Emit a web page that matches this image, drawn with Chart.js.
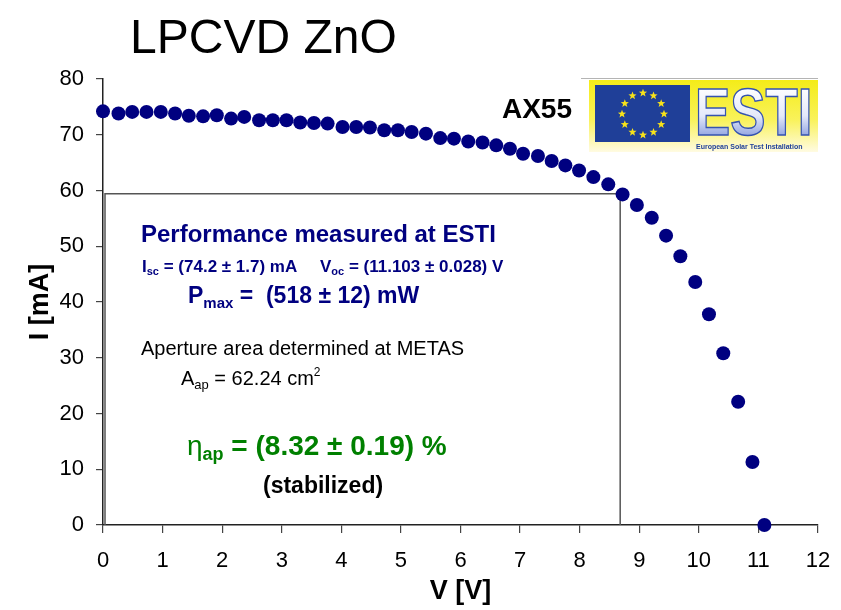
<!DOCTYPE html>
<html lang="en">
<head>
    <meta charset="UTF-8">
    <title>LPCVD ZnO - AX55</title>
    <script src="https://cdn.jsdelivr.net/npm/chart.js"></script>
    <style>
        body { margin: 0; background: #fff; }
    </style>
</head>
<body>
    <canvas id="ivChart" width="841" height="610"></canvas>
    <script>
        // I-V curve of module AX55, measured at ESTI
        const voltage = [
            0.00, 0.26, 0.49, 0.73, 0.97, 1.21, 1.44, 1.68, 1.91, 2.15,
            2.37, 2.62, 2.85, 3.08, 3.31, 3.54, 3.77, 4.02, 4.25, 4.48,
            4.72, 4.95, 5.18, 5.42, 5.66, 5.89, 6.13, 6.37, 6.60, 6.83,
            7.05, 7.30, 7.53, 7.76, 7.99, 8.23, 8.48, 8.72, 8.96, 9.21,
            9.45, 9.69, 9.94, 10.17, 10.41, 10.66, 10.90, 11.10
        ];
        const current = [
            74.2, 73.8, 74.1, 74.1, 74.1, 73.8, 73.4, 73.3, 73.5, 72.9,
            73.2, 72.6, 72.6, 72.6, 72.2, 72.1, 72.0, 71.4, 71.4, 71.3,
            70.8, 70.8, 70.5, 70.2, 69.4, 69.3, 68.8, 68.6, 68.1, 67.5,
            66.6, 66.2, 65.3, 64.5, 63.6, 62.4, 61.1, 59.3, 57.4, 55.1,
            51.9, 48.2, 43.6, 37.8, 30.8, 22.1, 11.3, 0.0
        ];
        const voltageTicks = [0, 1, 2, 3, 4, 5, 6, 7, 8, 9, 10, 11, 12];
        const currentTicks = [0, 10, 20, 30, 40, 50, 60, 70, 80];

        const SANS = '"Liberation Sans", Arial, sans-serif';
        const NAVY = '#000080';
        const GREEN = '#008000';

        const f = (weight, size) => `${weight} ${size}px ${SANS}`;

        // draw a row of text pieces (used for sub/superscripts)
        function drawRuns(ctx, x, y, color, runs) {
            ctx.fillStyle = color;
            ctx.textAlign = 'left';
            ctx.textBaseline = 'alphabetic';
            runs.forEach(([text, font, dy]) => {
                ctx.font = font;
                ctx.fillText(text, x, y + (dy || 0));
                x += ctx.measureText(text).width;
            });
        }

        function star(ctx, cx, cy, rOut, rIn) {
            ctx.beginPath();
            for (let i = 0; i < 10; i++) {
                const r = i % 2 ? rIn : rOut;
                const a = -Math.PI / 2 + i * Math.PI / 5;
                ctx.lineTo(cx + r * Math.cos(a), cy + r * Math.sin(a));
            }
            ctx.closePath();
            ctx.fill();
        }

        function drawLogo(ctx) {
            const L = 589, T = 80, W = 229, H = 72;
            ctx.save();
            ctx.strokeStyle = '#b4b4b4';
            ctx.lineWidth = 1;
            ctx.beginPath();
            ctx.moveTo(L - 8, T - 1.5);
            ctx.lineTo(L + W, T - 1.5);
            ctx.stroke();

            const bg = ctx.createLinearGradient(0, T, 0, T + H);
            bg.addColorStop(0, '#f4ec18');
            bg.addColorStop(0.55, '#f9f25a');
            bg.addColorStop(1, '#fffbe2');
            ctx.fillStyle = bg;
            ctx.fillRect(L, T, W, H);

            // EU flag
            ctx.fillStyle = '#1f3f98';
            ctx.fillRect(595, 85, 95, 57);
            ctx.fillStyle = '#f7e21a';
            for (let k = 0; k < 12; k++) {
                const a = k * Math.PI / 6;
                star(ctx, 643 + 21 * Math.cos(a), 114 + 21 * Math.sin(a), 4.3, 1.8);
            }

            // ESTI lettering
            ctx.translate(695, 135);
            ctx.scale(0.8, 1);
            ctx.font = f('bold', 66);
            ctx.textAlign = 'left';
            ctx.textBaseline = 'alphabetic';
            const g = ctx.createLinearGradient(0, -48, 0, 0);
            g.addColorStop(0, '#ffffff');
            g.addColorStop(0.6, '#e4e9fa');
            g.addColorStop(1, '#97a9e2');
            ctx.fillStyle = g;
            ctx.fillText('ESTI', 0, 0);
            ctx.strokeStyle = '#3553b0';
            ctx.lineWidth = 1.5;
            ctx.strokeText('ESTI', 0, 0);
            ctx.restore();

            ctx.save();
            ctx.fillStyle = '#1f3f98';
            ctx.font = f('bold', 7);
            ctx.textAlign = 'left';
            ctx.fillText('European Solar Test Installation', 696, 149, 117);
            ctx.restore();
        }

        const annotations = {
            id: 'annotations',
            beforeDatasetsDraw(chart) {
                const {ctx, scales: {x, y}} = chart;
                // results box
                const left = chart.chartArea.left + 2;
                const right = x.getPixelForValue(8.68);
                const top = y.getPixelForValue(59.4);
                const bottom = y.getPixelForValue(0);
                ctx.save();
                ctx.fillStyle = '#fff';
                ctx.fillRect(left, top, right - left, bottom - top - 1);
                ctx.strokeStyle = '#555';
                ctx.lineWidth = 1.5;
                ctx.beginPath();
                ctx.moveTo(left, bottom);
                ctx.lineTo(left, top);
                ctx.lineTo(right, top);
                ctx.lineTo(right, bottom);
                ctx.stroke();

                drawRuns(ctx, left + 36, top + 48, NAVY, [
                    ['Performance measured at ESTI', f('bold', 24)]
                ]);
                drawRuns(ctx, left + 37, top + 78, NAVY, [
                    ['I', f('bold', 17)],
                    ['sc', f('bold', 11), 3],
                    [' = (74.2 \u00b1 1.7) mA', f('bold', 17)]
                ]);
                drawRuns(ctx, left + 215, top + 78, NAVY, [
                    ['V', f('bold', 17)],
                    ['oc', f('bold', 11), 3],
                    [' = (11.103 \u00b1 0.028) V', f('bold', 17)]
                ]);
                drawRuns(ctx, left + 83, top + 109, NAVY, [
                    ['P', f('bold', 23)],
                    ['max', f('bold', 15), 5],
                    [' =  (518 \u00b1 12) mW', f('bold', 23)]
                ]);
                drawRuns(ctx, left + 36, top + 161, '#000', [
                    ['Aperture area determined at METAS', f('normal', 20)]
                ]);
                drawRuns(ctx, left + 76, top + 191, '#000', [
                    ['A', f('normal', 20)],
                    ['ap', f('normal', 13), 4],
                    [' = 62.24 cm', f('normal', 20)],
                    ['2', f('normal', 12), -9]
                ]);
                drawRuns(ctx, left + 82, top + 261, GREEN, [
                    ['\u03b7', f('normal', 28)],
                    ['ap', f('bold', 18), 5],
                    [' = (8.32 \u00b1 0.19) %', f('bold', 28)]
                ]);
                drawRuns(ctx, left + 158, top + 299, '#000', [
                    ['(stabilized)', f('bold', 23)]
                ]);
                ctx.restore();
            },
            afterDraw(chart) {
                const {ctx} = chart;
                ctx.save();
                drawRuns(ctx, 130, 53, '#000', [['LPCVD ZnO', f('normal', 48)]]);
                ctx.font = f('bold', 28);
                ctx.fillStyle = '#000';
                ctx.textAlign = 'right';
                ctx.fillText('AX55', 572, 118);
                ctx.restore();
                drawLogo(ctx);
            }
        };

        const ctx = document.getElementById('ivChart').getContext('2d');

        new Chart(ctx, {
            type: 'scatter',
            data: {
                datasets: [{
                    label: 'AX55',
                    data: voltage.map((v, i) => ({x: v, y: current[i]})),
                    backgroundColor: NAVY,
                    borderWidth: 0,
                    pointRadius: 7,
                    pointHoverRadius: 7,
                    clip: false
                }]
            },
            options: {
                responsive: false,
                animation: false,
                events: [],
                layout: {padding: {top: 79, right: 23, left: 0, bottom: 0}},
                plugins: {
                    legend: {display: false},
                    tooltip: {enabled: false}
                },
                scales: {
                    x: {
                        type: 'linear',
                        min: voltageTicks[0],
                        max: voltageTicks[voltageTicks.length - 1],
                        afterBuildTicks: s => { s.ticks = voltageTicks.map(v => ({value: v})); },
                        afterFit: s => { s.height = 85; s.paddingLeft = 0; s.paddingRight = 0; },
                        ticks: {color: '#000', font: {family: SANS, size: 22}, padding: 15},
                        grid: {drawOnChartArea: false, drawTicks: true, tickLength: 8, color: '#444', lineWidth: 1.2},
                        border: {display: true, color: '#222', width: 1.5, z: -1},
                        title: {display: true, text: 'V [V]', color: '#000',
                                font: {family: SANS, size: 27, weight: 'bold'}, padding: {top: 0, bottom: 2}}
                    },
                    y: {
                        type: 'linear',
                        min: currentTicks[0],
                        max: currentTicks[currentTicks.length - 1],
                        afterBuildTicks: s => { s.ticks = currentTicks.map(v => ({value: v})); },
                        afterFit: s => { s.width = 103; s.paddingTop = 0; s.paddingBottom = 0; },
                        ticks: {color: '#000', font: {family: SANS, size: 22}, padding: 12},
                        grid: {drawOnChartArea: false, drawTicks: true, tickLength: 7, color: '#444', lineWidth: 1.2},
                        border: {display: true, color: '#222', width: 1.5, z: -1},
                        title: {display: true, text: 'I [mA]', color: '#000',
                                font: {family: SANS, size: 27, weight: 'bold'}, padding: {top: 24, bottom: 0}}
                    }
                }
            },
            plugins: [annotations]
        });
    </script>
</body>
</html>
